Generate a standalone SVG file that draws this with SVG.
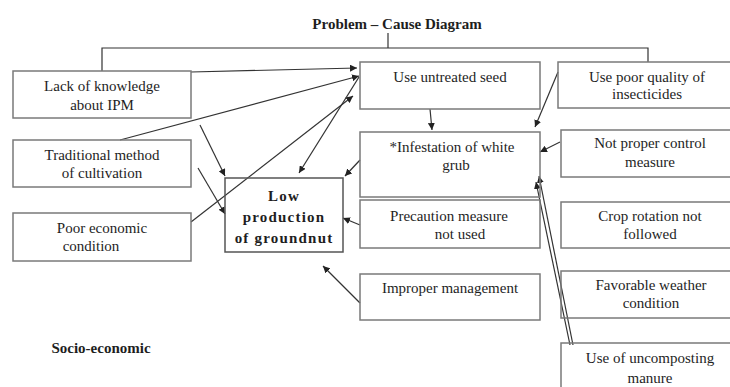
<svg xmlns="http://www.w3.org/2000/svg" width="730" height="387" viewBox="0 0 730 387">
<style>
.box{fill:none;stroke:#7a7a7a;stroke-width:1.5}
.t{font-family:'Liberation Serif','Times New Roman','DejaVu Serif',serif;font-size:15px;fill:#1e1e1e;text-anchor:middle}
.b{font-weight:bold}
.ln{fill:none;stroke:#333;stroke-width:1.2}
.ar{fill:none;stroke:#333;stroke-width:1.2;marker-end:url(#ah)}
</style>
<defs>
<marker id="ah" viewBox="0 0 10 10" refX="10" refY="5" markerWidth="7" markerHeight="7" markerUnits="userSpaceOnUse" orient="auto">
<path d="M0,0 L10,5 L0,10 z" fill="#222"/>
</marker>
</defs>
<rect width="730" height="387" fill="#fff"/>
<text class="t b" x="397" y="29" font-family="Liberation Serif, serif">Problem – Cause Diagram</text>
<text class="t b" x="101" y="353" font-family="Liberation Serif, serif">Socio-economic</text>

<g id="connectors">
<polyline class="ln" points="102,71 102,48 648,48 648,62"/>
<line class="ln" x1="388" y1="33" x2="388" y2="48"/>
<line class="ar" x1="191" y1="72" x2="357" y2="68"/>
<line class="ar" x1="120" y1="140" x2="359" y2="76"/>
<line class="ar" x1="191" y1="222" x2="353" y2="96"/>
<line class="ar" x1="359" y1="77" x2="299" y2="173"/>
<line class="ar" x1="200" y1="125" x2="225" y2="176"/>
<line class="ar" x1="198" y1="168" x2="225" y2="214"/>
<line class="ar" x1="360" y1="160" x2="345" y2="176"/>
<line class="ar" x1="360" y1="225" x2="343" y2="218"/>
<line class="ar" x1="360" y1="303" x2="323" y2="266"/>
<line class="ar" x1="430" y1="109" x2="432" y2="130"/>
<line class="ar" x1="558" y1="72" x2="535" y2="127"/>
<line class="ar" x1="560" y1="142" x2="540" y2="152"/>
<line class="ar" x1="573" y1="345" x2="539" y2="176"/>
<line class="ar" x1="570" y1="345" x2="536" y2="182"/>
</g>

<g id="lack"><rect class="box" x="13" y="71" width="178" height="47"/>
<text class="t" x="102" y="91" font-family="Liberation Serif, serif">Lack of knowledge</text><text class="t" x="102" y="110" font-family="Liberation Serif, serif">about IPM</text></g>
<g id="traditional"><rect class="box" x="13" y="140" width="178" height="47"/>
<text class="t" x="102" y="160" font-family="Liberation Serif, serif">Traditional method</text><text class="t" x="102" y="178" font-family="Liberation Serif, serif">of cultivation</text></g>
<g id="poor"><rect class="box" x="13" y="213" width="178" height="48"/>
<text class="t" x="102" y="233" font-family="Liberation Serif, serif">Poor economic</text><text class="t" x="91" y="251" font-family="Liberation Serif, serif">condition</text></g>
<g id="low"><rect class="box" x="225" y="178" width="118" height="74" style="stroke:#555"/>
<text class="t b" x="284" y="201" font-size="17" letter-spacing="1.2" font-family="Liberation Serif, serif">Low</text>
<text class="t b" x="284" y="222" font-size="17" letter-spacing="1.2" font-family="Liberation Serif, serif">production</text>
<text class="t b" x="284" y="243" font-size="17" letter-spacing="1.2" font-family="Liberation Serif, serif">of groundnut</text></g>
<g id="seed"><rect class="box" x="360" y="62" width="180" height="47"/>
<text class="t" x="450" y="82" font-family="Liberation Serif, serif">Use untreated seed</text></g>
<g id="insect"><rect class="box" x="558" y="62" width="178" height="46"/>
<text class="t" x="647" y="82" font-family="Liberation Serif, serif">Use poor quality of</text><text class="t" x="647" y="99" font-family="Liberation Serif, serif">insecticides</text></g>
<g id="infest"><rect class="box" x="360" y="132" width="180" height="65"/>
<text class="t" x="452" y="152" font-family="Liberation Serif, serif">*Infestation of white</text><text class="t" x="456" y="170" font-family="Liberation Serif, serif">grub</text></g>
<g id="control"><rect class="box" x="561" y="130" width="175" height="47"/>
<text class="t" x="650" y="148" font-family="Liberation Serif, serif">Not proper control</text><text class="t" x="650" y="167" font-family="Liberation Serif, serif">measure</text></g>
<g id="precaution"><rect class="box" x="360" y="200" width="180" height="48"/>
<text class="t" x="449" y="221" font-family="Liberation Serif, serif">Precaution measure</text><text class="t" x="460" y="239" font-family="Liberation Serif, serif">not used</text></g>
<g id="crop"><rect class="box" x="561" y="202" width="175" height="46"/>
<text class="t" x="650" y="221" font-family="Liberation Serif, serif">Crop rotation not</text><text class="t" x="650" y="239" font-family="Liberation Serif, serif">followed</text></g>
<g id="improper"><rect class="box" x="360" y="274" width="180" height="46"/>
<text class="t" x="450" y="293" font-family="Liberation Serif, serif">Improper management</text></g>
<g id="weather"><rect class="box" x="561" y="271" width="175" height="47"/>
<text class="t" x="651" y="290" font-family="Liberation Serif, serif">Favorable weather</text><text class="t" x="651" y="308" font-family="Liberation Serif, serif">condition</text></g>
<g id="manure"><rect class="box" x="561" y="343" width="175" height="50"/>
<text class="t" x="650" y="363" font-family="Liberation Serif, serif">Use of uncomposting</text><text class="t" x="650" y="383" font-family="Liberation Serif, serif">manure</text></g>
</svg>
